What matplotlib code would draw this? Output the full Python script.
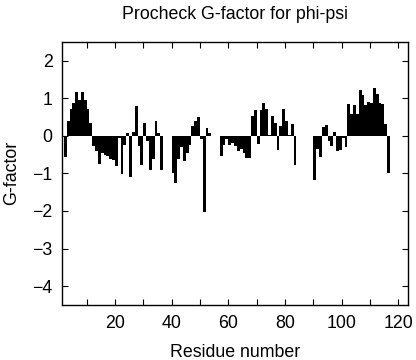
import matplotlib
matplotlib.use("Agg")
import matplotlib.pyplot as plt
import numpy as np
from matplotlib.ticker import MultipleLocator, FixedLocator

plt.rcParams['font.family'] = ['Liberation Sans', 'DejaVu Sans']

title = "Procheck G-factor for phi-psi"
xlabel = "Residue number"
ylabel = "G-factor"

first_residue = 2
gfactor = [
    -0.57, 0.38, 0.70, 0.88, 1.17, 0.95, 1.17, 0.95, 0.71, 0.35,      # 2-11
    -0.28, -0.41, -0.74, -0.45, -0.50, -0.55, -0.62, -0.65, -0.81, -0.05,  # 12-21
    -1.01, -0.25, 0.07, -1.10, 0.10, 0.78, -0.26, -0.77, 0.33, -0.15,  # 22-31
    -0.90, -0.62, 0.40, 0.08, -0.92, 0.0, 0.0, 0.0, -1.00, -1.25,     # 32-41
    -0.62, -0.30, -0.68, -0.45, -0.25, 0.25, 0.38, 0.49, -0.10, -2.03,  # 42-51
    0.20, 0.08, 0.0, 0.0, 0.0, -0.53, -0.25, -0.10, -0.25, -0.20,     # 52-61
    -0.28, -0.40, -0.35, -0.45, -0.60, -0.60, 0.53, 0.69, -0.21, 0.69,  # 62-71
    0.86, 0.70, 0.03, 0.53, 0.35, -0.37, 0.26, 0.70, 0.38, 0.03,      # 72-81
    0.32, -0.79, 0.0, 0.0, 0.0, 0.0, 0.0, 0.0, -1.19, -0.35,          # 82-91
    -0.57, 0.22, 0.29, -0.15, -0.28, 0.11, -0.41, -0.37, -0.05, -0.30,  # 92-101
    0.85, 0.57, 0.82, 0.57, 1.22, 1.07, 0.82, 0.89, 0.86, 1.26,       # 102-111
    1.10, 0.86, 0.84, 0.31, -0.99,                                    # 112-116
]
residues = np.arange(first_residue, first_residue + len(gfactor))

xticks = [20, 40, 60, 80, 100, 120]
yticks = [-4, -3, -2, -1, 0, 1, 2]

fig = plt.figure(figsize=(4.16, 3.60), dpi=100)
ax = fig.add_axes([61.7/416, 1 - 305/360, (408 - 61.7)/416, (305 - 41.7)/360])

ax.bar(residues, gfactor, width=1.0, align='edge', color='black', linewidth=0)

ax.set_xlim(1.2, 123.4)
ax.set_ylim(-4.5, 2.5)
ax.xaxis.set_major_locator(FixedLocator(xticks))
ax.xaxis.set_minor_locator(MultipleLocator(10))
ax.yaxis.set_major_locator(FixedLocator(yticks))

ax.tick_params(which='both', direction='in', top=True, right=True,
               length=4, width=0.8, labelsize=12.8)
ax.tick_params(axis='x', pad=7.5)
ax.tick_params(axis='y', pad=6.5)
for s in ax.spines.values():
    s.set_linewidth(1.0)

ax.set_title(title, fontsize=12.8, pad=16)
ax.set_xlabel(xlabel, fontsize=12.8, labelpad=8)
ax.set_ylabel(ylabel, fontsize=12.8, labelpad=9)

fig.savefig("out.png", dpi=100)
